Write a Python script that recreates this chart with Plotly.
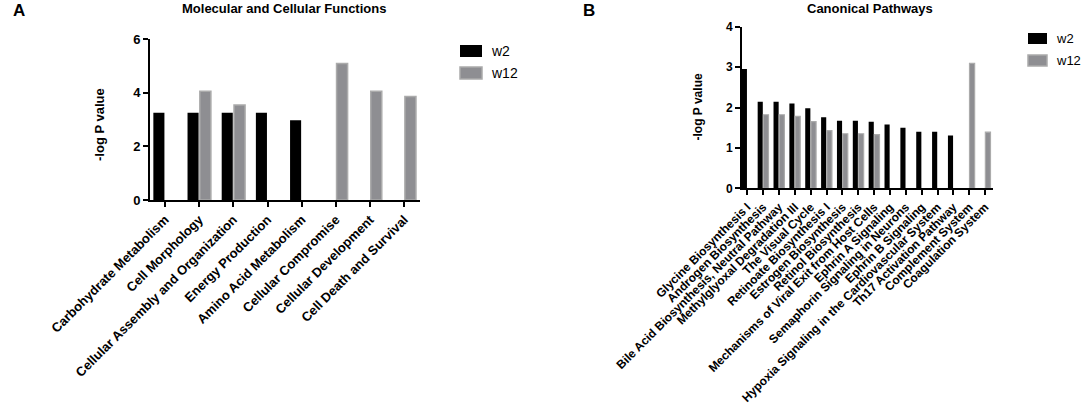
import plotly.graph_objects as go

# Panel A: Molecular and Cellular Functions
funcs = ["Carbohydrate Metabolism", "Cell Morphology", "Cellular Assembly and Organization",
         "Energy Production", "Amino Acid Metabolism", "Cellular Compromise",
         "Cellular Development", "Cell Death and Survival"]
funcs_w2 = [3.26, 3.26, 3.26, 3.26, 2.98, None, None, None]
funcs_w12 = [None, 4.06, 3.55, None, None, 5.10, 4.06, 3.86]

# Panel B: Canonical Pathways
paths = ["Glycine Biosynthesis I", "Androgen Biosynthesis",
         "Bile Acid Biosynthesis, Neutral Pathway", "Methylglyoxal Degradation III",
         "The Visual Cycle", "Retinoate Biosynthesis I", "Estrogen Biosynthesis",
         "Retinol Biosynthesis", "Mechanisms of Viral Exit from Host Cells",
         "Ephrin A Signaling", "Semaphorin Signaling in Neurons", "Ephrin B Signaling",
         "Hypoxia Signaling in the Cardiovascular System", "Th17 Activation Pathway",
         "Complement System", "Coagulation System"]
paths_w2 = [2.95, 2.14, 2.14, 2.10, 1.98, 1.76, 1.67, 1.67, 1.65, 1.58, 1.50, 1.40, 1.40, 1.31,
            None, None]
paths_w12 = [None, 1.82, 1.82, 1.78, 1.65, 1.43, 1.35, 1.35, 1.33, None, None, None, None, None,
             3.09, 1.39]

W, H = 1084, 407
FONT = "Liberation Sans, Arial, sans-serif"
BLACK = "#000000"
GREY = "#8e8e92"
GREY_EDGE = "#ababab"


def px(x):
    return x / W


def py(y):
    return 1 - y / H


fig = go.Figure()

# bars A (offsetgroup keeps the w2/w12 slots even when one is empty)
fig.add_trace(go.Bar(x=funcs, y=funcs_w2, name="w2", marker=dict(color=BLACK, line=dict(width=0)),
                     xaxis="x", yaxis="y", offsetgroup="a1", showlegend=False))
fig.add_trace(go.Bar(x=funcs, y=funcs_w12, name="w12",
                     marker=dict(color=GREY, line=dict(color=GREY_EDGE, width=1.5)),
                     xaxis="x", yaxis="y", offsetgroup="a2", showlegend=False))
# bars B
fig.add_trace(go.Bar(x=paths, y=paths_w2, name="w2", marker=dict(color=BLACK, line=dict(width=0)),
                     xaxis="x2", yaxis="y2", offsetgroup="b1", showlegend=False))
fig.add_trace(go.Bar(x=paths, y=paths_w12, name="w12",
                     marker=dict(color=GREY, line=dict(color=GREY_EDGE, width=1.2)),
                     xaxis="x2", yaxis="y2", offsetgroup="b2", showlegend=False))

axis_common = dict(showline=True, linecolor="black", linewidth=2, ticks="outside",
                   tickwidth=2, ticklen=5, tickcolor="black", showgrid=False, zeroline=False,
                   automargin=False)

fig.update_layout(
    width=W, height=H,
    margin=dict(l=0, r=0, t=0, b=0, pad=0, autoexpand=False),
    paper_bgcolor="white", plot_bgcolor="white",
    barmode="group", bargap=0.28, bargroupgap=0.1,
    font=dict(family=FONT, color="black"),
    xaxis=dict(domain=[px(150), px(420)], anchor="y", range=[-0.44, 7.46], tickangle=-45,
               tickfont=dict(size=13, weight="bold"), **axis_common),
    yaxis=dict(domain=[py(200), py(39.3)], anchor="x", range=[0, 6], tickvals=[0, 2, 4, 6],
               tickfont=dict(size=13, weight="bold"), **axis_common),
    xaxis2=dict(domain=[px(742), px(993)], anchor="y2", range=[-0.33, 15.5], tickangle=-45,
                tickfont=dict(size=12, weight="bold"), **axis_common),
    yaxis2=dict(domain=[py(188.3), py(26.7)], anchor="x2", range=[0, 4], tickvals=[0, 1, 2, 3, 4],
                tickfont=dict(size=12, weight="bold"), **axis_common),
)

ann = [
    dict(text="A", x=px(11), y=py(11), xanchor="left", font=dict(size=17, weight="bold")),
    dict(text="B", x=px(581), y=py(11), xanchor="left", font=dict(size=17, weight="bold")),
    dict(text="Molecular and Cellular Functions", x=px(284), y=py(8), xanchor="center",
         font=dict(size=13, weight="bold")),
    dict(text="Canonical Pathways", x=px(870), y=py(8), xanchor="center",
         font=dict(size=13, weight="bold")),
    dict(text="-log P value", x=px(100), y=py(125), xanchor="center", textangle=-90,
         font=dict(size=13, weight="bold")),
    dict(text="-log P value", x=px(697), y=py(107.5), xanchor="center", textangle=-90,
         font=dict(size=12, weight="bold")),
    dict(text="w2", x=px(489), y=py(51), xanchor="left", font=dict(size=14)),
    dict(text="w12", x=px(489), y=py(73), xanchor="left", font=dict(size=14)),
    dict(text="w2", x=px(1054), y=py(38.5), xanchor="left", font=dict(size=13)),
    dict(text="w12", x=px(1054), y=py(60.5), xanchor="left", font=dict(size=13)),
]
for a in ann:
    a.update(xref="paper", yref="paper", showarrow=False, yanchor="middle")
fig.update_layout(annotations=ann)

# legend swatches
shapes = [
    dict(x0=px(460), x1=px(482), y0=py(57), y1=py(45), fillcolor=BLACK, line=dict(width=0)),
    dict(x0=px(460), x1=px(482), y0=py(79), y1=py(67), fillcolor=GREY,
         line=dict(color=GREY_EDGE, width=1.5)),
    dict(x0=px(1028), x1=px(1047), y0=py(44), y1=py(33), fillcolor=BLACK, line=dict(width=0)),
    dict(x0=px(1028), x1=px(1047), y0=py(66), y1=py(55), fillcolor=GREY,
         line=dict(color=GREY_EDGE, width=1.5)),
]
for s in shapes:
    s.update(type="rect", xref="paper", yref="paper")
fig.update_layout(shapes=shapes)

# drop the default page margin so the 1084x407 figure fills the window exactly
fig.write_html("out.html", config={"displayModeBar": False},
               post_script="document.body.style.margin='0';document.body.style.overflow='hidden';")
